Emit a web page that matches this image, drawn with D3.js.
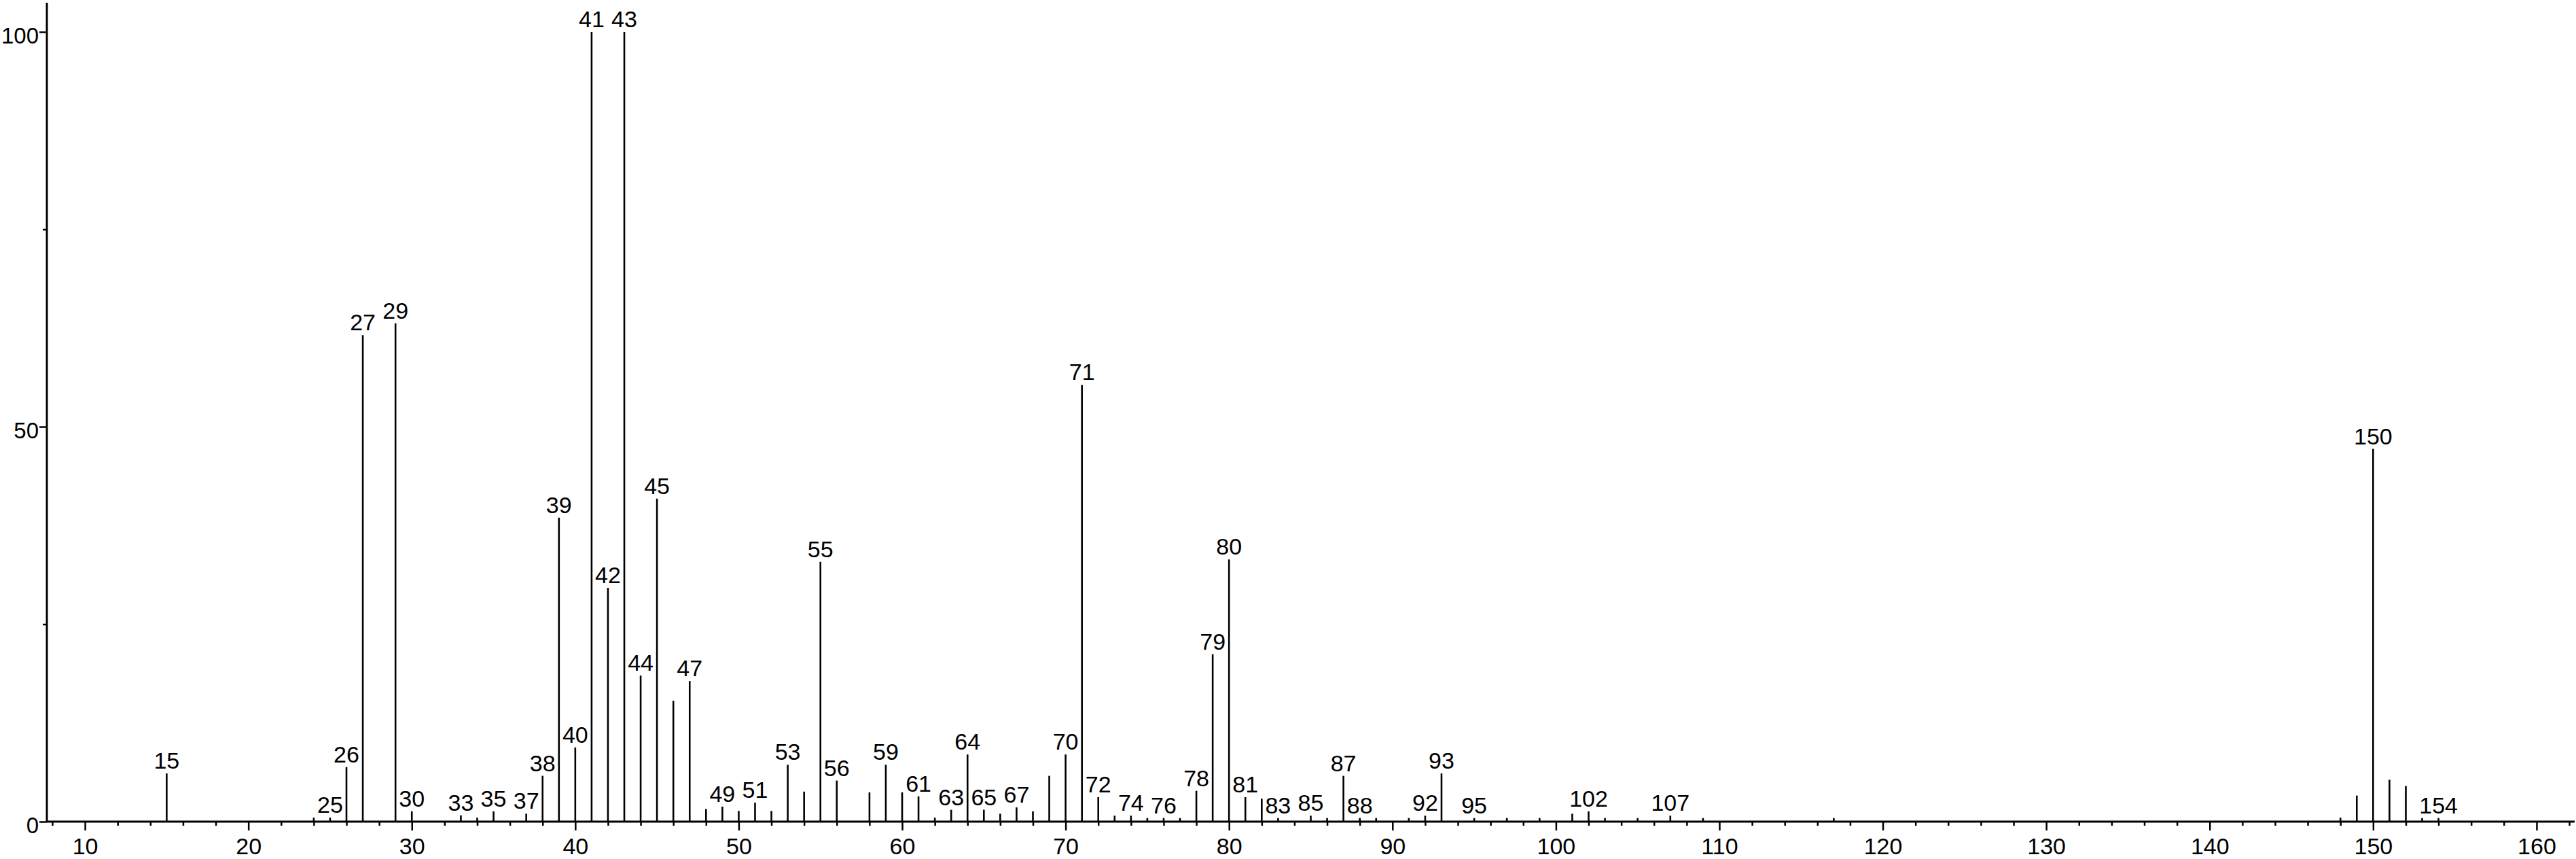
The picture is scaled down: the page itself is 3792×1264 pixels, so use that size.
<!DOCTYPE html>
<html>
<head>
<meta charset="utf-8">
<script src="https://cdn.jsdelivr.net/npm/d3@7"></script>
<style>
  html, body { margin: 0; padding: 0; background: #fff; }
  svg { display: block; }
  text { font-family: "Liberation Sans", Arial, Helvetica, sans-serif; fill: #000; }
</style>
</head>
<body>
<svg id="chart" width="3792" height="1264"></svg>
<script>
// m/z values of the peaks
const mz = [15, 24, 25, 26, 27, 29, 30, 33, 34, 35, 37, 38, 39, 40, 41, 42, 43, 44, 45, 46, 47, 48, 49, 50, 51, 52, 53, 54, 55, 56, 58, 59, 60, 61, 62, 63, 64, 65, 66, 67, 68, 69, 70, 71, 72, 73, 74, 75, 76, 77, 78, 79, 80, 81, 82, 83, 85, 86, 87, 88, 89, 91, 92, 93, 95, 97, 99, 101, 102, 103, 105, 107, 109, 117, 148, 149, 150, 151, 152, 153, 154];
// relative intensities (%)
const intensity = [6.1, 0.5, 0.5, 6.9, 61.6, 63.1, 1.3, 0.8, 0.5, 1.3, 1.0, 5.8, 38.5, 9.4, 100, 29.6, 100, 18.5, 40.9, 15.3, 17.8, 1.6, 1.9, 1.35, 2.4, 1.35, 7.2, 3.8, 32.9, 5.2, 3.7, 7.2, 3.7, 3.2, 0.5, 1.5, 8.5, 1.5, 1.0, 1.8, 1.3, 5.8, 8.5, 55.3, 3.1, 0.75, 0.75, 0.45, 0.45, 0.45, 3.9, 21.2, 33.2, 3.1, 2.9, 0.45, 0.75, 0.45, 5.8, 0.45, 0.45, 0.45, 0.75, 6.1, 0.45, 0.45, 0.45, 1.0, 1.3, 0.45, 0.45, 0.75, 0.45, 0.45, 0.5, 3.3, 47.2, 5.3, 4.5, 0.45, 0.45];
// peaks that carry an m/z label
const labeledPeaks = [15, 25, 26, 27, 29, 30, 33, 35, 37, 38, 39, 40, 41, 42, 43, 44, 45, 47, 49, 51, 53, 55, 56, 59, 61, 63, 64, 65, 67, 70, 71, 72, 74, 76, 78, 79, 80, 81, 83, 85, 87, 88, 92, 93, 95, 102, 107, 150, 154];
// axis tick labels
const xTickLabels = [10, 20, 30, 40, 50, 60, 70, 80, 90, 100, 110, 120, 130, 140, 150, 160];
const xMinorTicks = d3.range(8, 163, 2).filter(v => v % 10 !== 0);
const yTickLabels = [0, 50, 100];
const yMinorTicks = [25, 75];

const peaks = mz.map((m, i) => ({ m, v: intensity[i], lab: labeledPeaks.includes(m) }));

const svg = d3.select("#chart");
svg.append("rect").attr("width", 3792).attr("height", 1264).attr("fill", "#fff");

const x = d3.scaleLinear().domain([7.67, 162.33]).range([69, 3790]);
const y = d3.scaleLinear().domain([0, 100]).range([1209, 47]);
const fontSize = 34;

// peaks
svg.append("g").selectAll("line").data(peaks).join("line")
  .attr("x1", d => x(d.m)).attr("x2", d => x(d.m))
  .attr("y1", y(0)).attr("y2", d => y(d.v))
  .attr("stroke", "#000").attr("stroke-width", 2.6);

// peak labels
svg.append("g").selectAll("text").data(peaks.filter(d => d.lab)).join("text")
  .attr("x", d => x(d.m)).attr("y", d => y(d.v) - 7)
  .attr("text-anchor", "middle").attr("font-size", fontSize)
  .text(d => d.m);

// x axis: minor ticks
const xMinor = svg.append("g").attr("transform", `translate(0,${y(0)})`)
  .call(d3.axisBottom(x).tickValues(xMinorTicks).tickSize(6).tickFormat(""));
xMinor.select(".domain").remove();
xMinor.selectAll(".tick line").attr("stroke", "#000").attr("stroke-width", 2.5);

// x axis: major ticks + labels
const xMajor = svg.append("g").attr("transform", `translate(0,${y(0)})`)
  .call(d3.axisBottom(x).tickValues(xTickLabels).tickSize(13).tickPadding(11).tickSizeOuter(0).tickFormat(d3.format("d")));
xMajor.select(".domain").attr("stroke", "#000").attr("stroke-width", 3)
  .attr("d", `M${x.range()[0]},0H${x.range()[1]}`);
xMajor.selectAll(".tick line").attr("stroke", "#000").attr("stroke-width", 2.5);
xMajor.selectAll(".tick text").attr("font-size", fontSize).attr("font-family", null).attr("fill", "#000");

// y axis
const yTop = 4;
const yAxisG = svg.append("g").attr("transform", `translate(${x.range()[0]},0)`);
yAxisG.call(d3.axisLeft(y).tickValues(yTickLabels).tickSize(11).tickPadding(1).tickSizeOuter(0).tickFormat(d3.format("d")));
yAxisG.select(".domain").attr("stroke", "#000").attr("stroke-width", 3)
  .attr("d", `M0,${yTop}V${y(0)}`);
yAxisG.selectAll(".tick line").attr("stroke", "#000").attr("stroke-width", 2.5);
yAxisG.selectAll(".tick text").attr("font-size", 33).attr("font-family", null).attr("fill", "#000").attr("dy", "0.5em");

const yMinorG = svg.append("g").attr("transform", `translate(${x.range()[0]},0)`)
  .call(d3.axisLeft(y).tickValues(yMinorTicks).tickSize(6).tickFormat(""));
yMinorG.select(".domain").remove();
yMinorG.selectAll(".tick line").attr("stroke", "#000").attr("stroke-width", 2.5);
</script>
</body>
</html>
